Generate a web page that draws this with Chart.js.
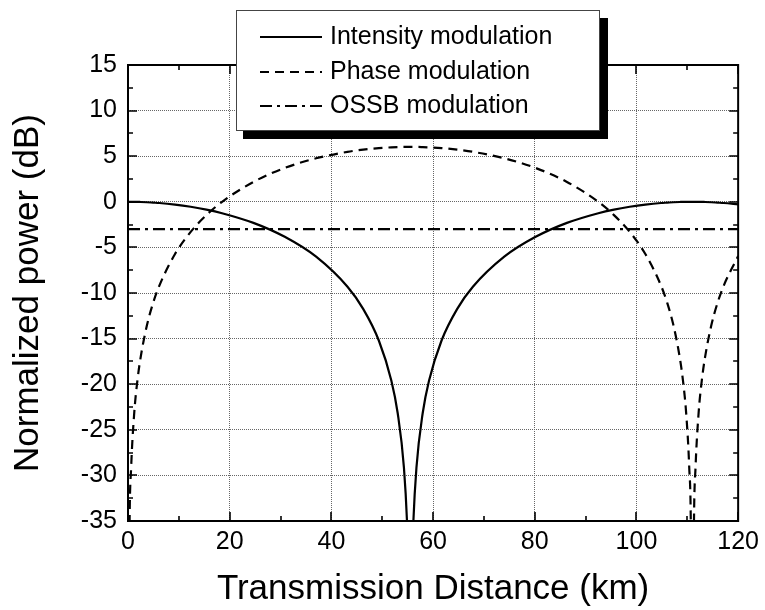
<!DOCTYPE html>
<html>
<head>
<meta charset="utf-8">
<script src="https://cdn.jsdelivr.net/npm/chart.js@4.4.1/dist/chart.umd.min.js"></script>
<style>
  html, body { margin: 0; padding: 0; background: #fff; }
</style>
</head>
<body>
<canvas id="powerChart" width="765" height="610"></canvas>
<script>
// values (km, dB)
var distanceKm = [0, 0.31, 0.62, 1.23, 1.85, 2.47, 3.7, 4.93, 6.17, 9.25, 12.33, 15.42, 18.5, 24.67, 30.83, 37, 43.17, 46.25, 49.33, 51.8,
  53.03, 54.27, 54.88, 55.19, 55.5, 55.81, 56.12, 56.73, 57.97, 59.2, 61.67, 64.75, 67.83, 74, 80.17, 86.33, 92.5, 95.58, 98.67, 101.75,
  104.83, 106.07, 107.3, 108.53, 109.15, 109.77, 110.38, 110.69, 111, 111.31, 111.62, 112.23, 112.85, 113.47, 114.7, 115.93, 117.17, 120];
var intensityDb = [0, 0, 0, -0.01, -0.01, -0.02, -0.05, -0.09, -0.13, -0.3, -0.54, -0.85, -1.25, -2.31, -3.84, -6.02, -9.32, -11.74, -15.21, -19.62,
  -23.13, -29.14, -35.16, -41.18, -60, -41.18, -35.16, -29.14, -23.13, -19.62, -15.21, -11.74, -9.32, -6.02, -3.84, -2.31, -1.25, -0.85, -0.54, -0.3,
  -0.13, -0.09, -0.05, -0.02, -0.01, -0.01, 0, 0, 0, 0, 0, -0.01, -0.01, -0.02, -0.05, -0.09, -0.13, -0.29];
var phaseDb = [-60, -35.16, -29.14, -23.12, -19.6, -17.11, -13.6, -11.11, -9.19, -5.72, -3.3, -1.46, 0, 2.18, 3.71, 4.77, 5.48, 5.72, 5.89, 5.97,
  6.0, 6.02, 6.02, 6.02, 6.02, 6.02, 6.02, 6.02, 6.0, 5.97, 5.89, 5.72, 5.48, 4.77, 3.71, 2.18, 0, -1.46, -3.3, -5.72,
  -9.19, -11.11, -13.6, -17.11, -19.6, -23.12, -29.14, -35.16, -60, -35.16, -29.14, -23.12, -19.6, -17.11, -13.6, -11.11, -9.19, -5.95];
var ossbKm = [0, 120];
var ossbDb = [-3, -3];

var seriesNames = ["Intensity modulation", "Phase modulation", "OSSB modulation"];
var xRange = [0, 120], xStep = 20;
var yRange = [-35, 15], yStep = 5;

var FONT = "'Liberation Sans', Arial, Helvetica, sans-serif";

function pairs(xs, ys) {
  return xs.map((x, i) => ({ x: x, y: ys[i] }));
}

// frame with inward ticks on all four sides, plus the boxed legend with a shadow
const frameAndLegend = {
  id: "frameAndLegend",
  afterDraw(chart) {
    const c = chart.ctx;
    const a = chart.chartArea;
    const xs = chart.scales.x, ys = chart.scales.y;
    c.save();
    c.strokeStyle = "#000";
    c.lineWidth = 2;
    c.strokeRect(a.left, a.top, a.right - a.left, a.bottom - a.top);

    c.lineWidth = 1.6;
    c.beginPath();
    for (let v = xRange[0]; v <= xRange[1]; v += xStep / 2) {
      const len = v % xStep === 0 ? 9 : 5;
      const px = Math.round(xs.getPixelForValue(v));
      c.moveTo(px, a.bottom); c.lineTo(px, a.bottom - len);
      c.moveTo(px, a.top); c.lineTo(px, a.top + len);
    }
    for (let v = yRange[0]; v <= yRange[1]; v += yStep / 2) {
      const len = v % yStep === 0 ? 9 : 5;
      const py = Math.round(ys.getPixelForValue(v));
      c.moveTo(a.left, py); c.lineTo(a.left + len, py);
      c.moveTo(a.right, py); c.lineTo(a.right - len, py);
    }
    c.stroke();

    // legend box
    const bx = 236, by = 10, bw = 364, bh = 121;
    c.fillStyle = "#000";
    c.fillRect(bx + 7, by + 8, bw + 1, bh);
    c.fillStyle = "#fff";
    c.fillRect(bx, by, bw, bh);
    c.strokeStyle = "#444";
    c.lineWidth = 1;
    c.strokeRect(bx + 0.5, by + 0.5, bw - 1, bh - 1);

    const rowsY = [37, 72, 106];
    c.font = "25px " + FONT;
    c.textBaseline = "middle";
    c.textAlign = "left";
    chart.data.datasets.forEach((ds, i) => {
      c.strokeStyle = "#000";
      c.lineWidth = ds.borderWidth;
      c.setLineDash(ds.borderDash || []);
      c.beginPath();
      c.moveTo(260, rowsY[i]);
      c.lineTo(322, rowsY[i]);
      c.stroke();
      c.setLineDash([]);
      c.fillStyle = "#000";
      c.fillText(ds.label, 330, rowsY[i]);
    });
    c.restore();
  }
};

const ctx = document.getElementById("powerChart").getContext("2d");
new Chart(ctx, {
  type: "line",
  data: {
    datasets: [
      {
        label: seriesNames[0],
        data: pairs(distanceKm, intensityDb),
        borderColor: "#000",
        borderWidth: 2.2,
        pointRadius: 0,
        cubicInterpolationMode: "monotone",
        fill: false,
      },
      {
        label: seriesNames[1],
        data: pairs(distanceKm, phaseDb),
        borderColor: "#000",
        borderWidth: 2.2,
        borderDash: [9, 6],
        pointRadius: 0,
        cubicInterpolationMode: "monotone",
        fill: false,
      },
      {
        label: seriesNames[2],
        data: pairs(ossbKm, ossbDb),
        borderColor: "#000",
        borderWidth: 2.2,
        borderDash: [12, 5, 3, 5],
        pointRadius: 0,
        fill: false,
      },
    ],
  },
  options: {
    responsive: false,
    animation: false,
    layout: { padding: { top: 65, right: 23, left: 0, bottom: 0 } },
    plugins: { legend: { display: false }, tooltip: { enabled: false } },
    scales: {
      x: {
        type: "linear",
        min: xRange[0],
        max: xRange[1],
        ticks: { stepSize: xStep, padding: 6, color: "#000", font: { size: 25, family: FONT } },
        grid: { color: "#666", lineWidth: 1, drawTicks: false },
        border: { display: false, dash: [1, 1] },
        title: {
          display: true,
          text: "Transmission Distance (km)",
          color: "#000",
          font: { size: 35, family: FONT },
          padding: { top: 0, bottom: 0 },
        },
        afterFit(scale) { scale.height = 89; },
      },
      y: {
        type: "linear",
        min: yRange[0],
        max: yRange[1],
        ticks: { stepSize: yStep, padding: 11, color: "#000", font: { size: 25, family: FONT } },
        grid: { color: "#666", lineWidth: 1, drawTicks: false },
        border: { display: false, dash: [1, 1] },
        title: {
          display: true,
          text: "Normalized power (dB)",
          color: "#000",
          font: { size: 35, family: FONT },
          padding: { top: 7, bottom: 0 },
        },
        afterFit(scale) { scale.width = 128; },
      },
    },
  },
  plugins: [frameAndLegend],
});
</script>
</body>
</html>
